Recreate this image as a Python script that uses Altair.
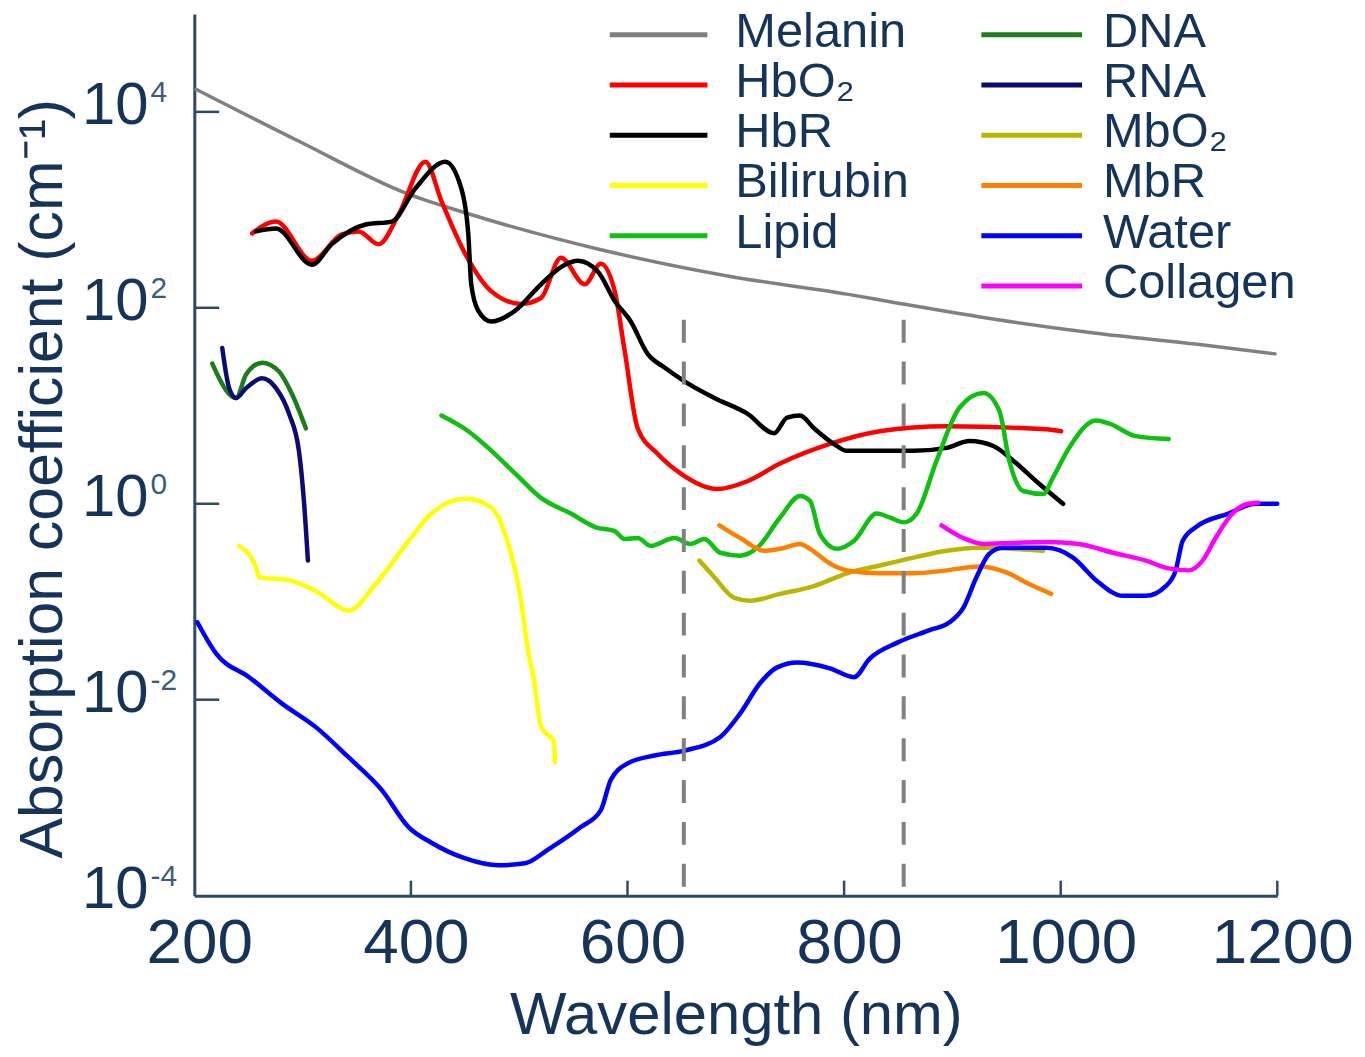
import altair as alt
import pandas as pd

FONT = "Liberation Sans"
TXT = "#16345a"
AXC = "#2e4a6b"

# ---- series (wavelength nm, log10 absorption coefficient) ----
melanin_nm = [201.8, 296.6, 397.8, 453.0, 572.6, 695.0, 802.6, 848.6, 940.6, 1032.6, 1124.6, 1198.0]
melanin_lg = [4.23, 3.70, 3.16, 2.96, 2.60, 2.32, 2.14, 2.05, 1.88, 1.74, 1.63, 1.53]

hbo2_nm = [253.4, 275.4, 308.6, 336.2, 351.8, 370.2, 388.6, 413.4, 428.2, 450.2, 474.1, 501.7, 520.1,
           538.5, 560.6, 575.3, 588.2, 597.4, 609.4, 627.8, 648.9, 683.0, 710.6, 740.9, 786.9, 833.0,
           894.6, 986.6, 1000.4]
hbo2_lg = [2.76, 2.88, 2.48, 2.75, 2.78, 2.65, 2.95, 3.49, 3.09, 2.55, 2.17, 2.04, 2.10,
           2.51, 2.24, 2.45, 2.17, 1.56, 0.77, 0.51, 0.31, 0.15, 0.23, 0.41, 0.61, 0.74,
           0.79, 0.76, 0.74]

hbr_nm = [257.0, 275.4, 308.6, 327.0, 358.2, 382.2, 404.2, 431.8, 446.5, 453.0, 455.7, 462.2, 474.1,
          496.2, 520.1, 542.2, 554.2, 572.6, 588.2, 603.0, 618.6, 634.2, 652.6, 680.2, 710.6, 735.4,
          747.4, 759.3, 772.2, 790.6, 802.6, 864.2, 894.6, 915.7, 937.8, 956.2, 977.4, 1002.2]
hbr_lg = [2.78, 2.81, 2.44, 2.65, 2.85, 2.88, 3.22, 3.49, 3.22, 2.75, 2.24, 1.97, 1.86,
          1.97, 2.24, 2.44, 2.48, 2.37, 2.07, 1.86, 1.53, 1.39, 1.25, 1.08, 0.92, 0.72,
          0.88, 0.90, 0.77, 0.61, 0.54, 0.54, 0.57, 0.64, 0.59, 0.44, 0.23, 0.00]

bili_nm = [241.4, 257.0, 259.8, 287.4, 312.2, 342.6, 367.4, 397.8, 419.0, 450.2, 474.1, 487.0,
           501.7, 508.2, 513.7, 520.2, 526.6, 532.2, 533.0]
bili_lg = [-0.43, -0.65, -0.75, -0.78, -0.89, -1.09, -0.82, -0.38, -0.10, 0.05, -0.04, -0.31,
           -0.99, -1.50, -1.80, -2.28, -2.36, -2.43, -2.64]

lipid_nm = [428.2, 453.0, 471.4, 496.2, 520.1, 547.7, 570.7, 588.2, 597.4, 609.4, 621.3, 643.4,
            658.1, 671.0, 685.7, 704.1, 719.8, 740.9, 759.3, 768.5, 777.7, 793.4, 809.0, 830.2,
            842.1, 855.0, 867.0, 885.4, 906.5, 928.6, 943.3, 952.5, 965.4, 983.8, 993.0, 1007.7,
            1032.6, 1044.5, 1069.4, 1099.7]
lipid_lg = [0.90, 0.74, 0.57, 0.31, 0.06, -0.10, -0.24, -0.28, -0.36, -0.35, -0.43, -0.35,
            -0.41, -0.36, -0.50, -0.53, -0.45, -0.14, 0.08, 0.03, -0.31, -0.46, -0.38, -0.10,
            -0.14, -0.19, -0.10, 0.44, 0.98, 1.13, 0.95, 0.44, 0.13, 0.10, 0.27, 0.57,
            0.85, 0.82, 0.69, 0.66]

dna_nm = [216.6, 232.2, 238.6, 247.8, 262.6, 278.2, 290.2, 303.0]
dna_lg = [1.43, 1.12, 1.08, 1.32, 1.44, 1.35, 1.12, 0.77]

rna_nm = [225.8, 232.2, 238.6, 247.8, 262.6, 275.4, 287.4, 296.6, 301.2, 304.9]
rna_lg = [1.59, 1.18, 1.08, 1.18, 1.28, 1.18, 0.92, 0.54, 0.03, -0.58]

mbo2_nm = [666.4, 680.2, 698.6, 713.3, 740.9, 772.2, 802.6, 833.0, 864.2, 894.6, 925.0, 983.8]
mbo2_lg = [-0.58, -0.75, -0.96, -0.99, -0.92, -0.84, -0.71, -0.63, -0.55, -0.48, -0.45, -0.48]

mbr_nm = [684.8, 704.1, 726.2, 740.9, 759.3, 768.5, 786.9, 802.6, 833.0, 864.2, 894.6, 925.0,
          949.8, 970.9, 991.2]
mbr_lg = [-0.22, -0.35, -0.48, -0.46, -0.41, -0.46, -0.61, -0.68, -0.71, -0.71, -0.68, -0.64,
          -0.70, -0.82, -0.92]

water_nm = [202.8, 220.2, 250.6, 281.0, 312.2, 342.6, 373.0, 397.8, 419.0, 450.2, 480.6, 505.4,
            526.6, 556.9, 575.3, 584.5, 600.2, 625.0, 652.6, 685.7, 704.1, 722.5, 738.2, 756.6,
            786.9, 809.0, 823.7, 848.6, 878.9, 897.3, 910.2, 922.2, 934.1, 947.0, 986.6, 1011.4,
            1032.6, 1057.4, 1078.6, 1097.0, 1106.2, 1112.6, 1124.6, 1154.9, 1179.8, 1200.0]
water_lg = [-1.21, -1.53, -1.77, -2.04, -2.28, -2.59, -2.92, -3.30, -3.46, -3.62, -3.69, -3.67,
            -3.53, -3.30, -3.13, -2.82, -2.65, -2.57, -2.52, -2.38, -2.14, -1.83, -1.67, -1.62,
            -1.68, -1.77, -1.58, -1.42, -1.29, -1.21, -1.06, -0.75, -0.51, -0.45, -0.45, -0.55,
            -0.78, -0.94, -0.94, -0.84, -0.68, -0.38, -0.24, -0.10, 0.00, 0.00]

coll_nm = [890.0, 910.2, 928.6, 956.2, 986.6, 1016.9, 1048.2, 1078.6, 1099.7, 1118.1, 1131.0,
           1143.0, 1158.6, 1173.3, 1182.5]
coll_lg = [-0.22, -0.35, -0.41, -0.40, -0.39, -0.41, -0.50, -0.58, -0.66, -0.68, -0.58,
           -0.35, -0.10, 0.00, 0.01]

names = ["Melanin", "HbO₂", "HbR", "Bilirubin", "Lipid", "DNA", "RNA", "MbO₂", "MbR", "Water", "Collagen"]
colors = ["#808080", "#ff0000", "#000000", "#ffff00", "#10c010", "#1a7f1a", "#0b0b72", "#b9b500",
          "#ff8000", "#0000ff", "#ff00ff"]
series_nm = [melanin_nm, hbo2_nm, hbr_nm, bili_nm, lipid_nm, dna_nm, rna_nm, mbo2_nm, mbr_nm, water_nm, coll_nm]
series_lg = [melanin_lg, hbo2_lg, hbr_lg, bili_lg, lipid_lg, dna_lg, rna_lg, mbo2_lg, mbr_lg, water_lg, coll_lg]

x_ticks = [200, 400, 600, 800, 1000, 1200]
y_tick_vals = [1e4, 1e2, 1, 1e-2, 1e-4]
y_tick_exp = ["4", "2", "0", "-2", "-4"]
marker_nm = [652, 855]

rows = []
for name, nms, lgs in zip(names, series_nm, series_lg):
    for n, l in zip(nms, lgs):
        rows.append({"series": name, "nm": n, "value": 10 ** l})
df = pd.DataFrame(rows)

xs = alt.Scale(domain=[200, 1200], nice=False, zero=False)
ys = alt.Scale(type="log", domain=[1e-4, 1e5], nice=False)

x_axis = alt.Axis(
    values=x_ticks, format="d", ticks=False, grid=False, labelFont=FONT, labelFontSize=64,
    labelColor=TXT, labelPadding=16, labelFlush=False, labelOverlap=False, labelOffset=5,
    domainColor=AXC, domainWidth=3, title="Wavelength (nm)", titleFont=FONT, titleFontSize=60,
    titleFontWeight="normal", titleColor=TXT, titleY=138, titleBaseline="alphabetic")
y_axis = alt.Axis(
    labels=False, ticks=False, grid=False, domainColor=AXC, domainWidth=3,
    title="Absorption coefficient (cm⁻¹)", titleFont=FONT, titleFontSize=61,
    titleFontWeight="normal", titleColor=TXT, titleAngle=270, titleX=-133, titleY=466,
    titleAlign="center", titleBaseline="alphabetic")

X = alt.X("nm:Q", scale=xs, axis=x_axis)
Y = alt.Y("value:Q", scale=ys, axis=y_axis)

melanin = alt.Chart(df[df.series == "Melanin"]).mark_line(
    interpolate="monotone", strokeCap="round", color="#808080", strokeWidth=3.5).encode(x=X, y=Y)

lines = alt.Chart(df[df.series != "Melanin"]).mark_line(
    interpolate="monotone", strokeCap="round", strokeJoin="round", strokeWidth=4.5).encode(
    x=X, y=Y,
    color=alt.Color("series:N", scale=alt.Scale(domain=names, range=colors), legend=None),
)

markers = alt.Chart(pd.DataFrame({"nm": marker_nm})).mark_rule(
    color="#808080", strokeWidth=4, strokeDash=[23, 19]).encode(
    x=X, y=alt.value(307), y2=alt.value(876))

xt = alt.Chart(pd.DataFrame({"nm": x_ticks[1:]})).mark_rule(color=AXC, strokeWidth=2.5).encode(
    x=X, y=alt.value(870), y2=alt.value(885))

ytdf = pd.DataFrame({"value": y_tick_vals, "base": ["10"] * 5, "exp": y_tick_exp})
yt = alt.Chart(ytdf.iloc[:4]).mark_rule(color=AXC, strokeWidth=2.5).encode(
    y=Y, x=alt.value(0), x2=alt.value(25))
ybase = alt.Chart(ytdf).mark_text(align="right", baseline="alphabetic", font=FONT, fontSize=60,
                                  color=TXT, dy=12).encode(
    y=Y, x=alt.value(-46), text="base:N")
yexp = alt.Chart(ytdf).mark_text(align="left", baseline="alphabetic", font=FONT, fontSize=30,
                                 color="#3d5a7c", dy=-10).encode(
    y=Y, x=alt.value(-44), text="exp:N")

# ---- legend (two columns) ----
legend_layers = []
col_x = [(417, 515, 543), (790, 891, 912)]
col_members = [names[:5], names[5:]]
for c, members in enumerate(col_members):
    lx1, lx2, tx = col_x[c]
    for r, name in enumerate(members):
        yy = 21 + r * 50.4
        color = colors[names.index(name)]
        ldf = pd.DataFrame({"label": [name]})
        legend_layers.append(alt.Chart(ldf).mark_rule(color=color, strokeWidth=5).encode(
            x=alt.value(lx1), x2=alt.value(lx2), y=alt.value(yy)))
        legend_layers.append(alt.Chart(ldf).mark_text(
            align="left", baseline="alphabetic", font=FONT, fontSize=49, color=TXT, dy=12).encode(
            x=alt.value(tx), y=alt.value(yy), text="label:N"))

chart = alt.layer(melanin, lines, markers, xt, yt, ybase, yexp, *legend_layers).properties(
    width=1087, height=885,
    autosize=alt.AutoSizeParams(type="none"),
    padding={"left": 187, "top": 4, "right": 80, "bottom": 150},
    background="white",
).configure_view(stroke=None)

chart.save("out.html", embed_options={"renderer": "svg", "actions": False})
